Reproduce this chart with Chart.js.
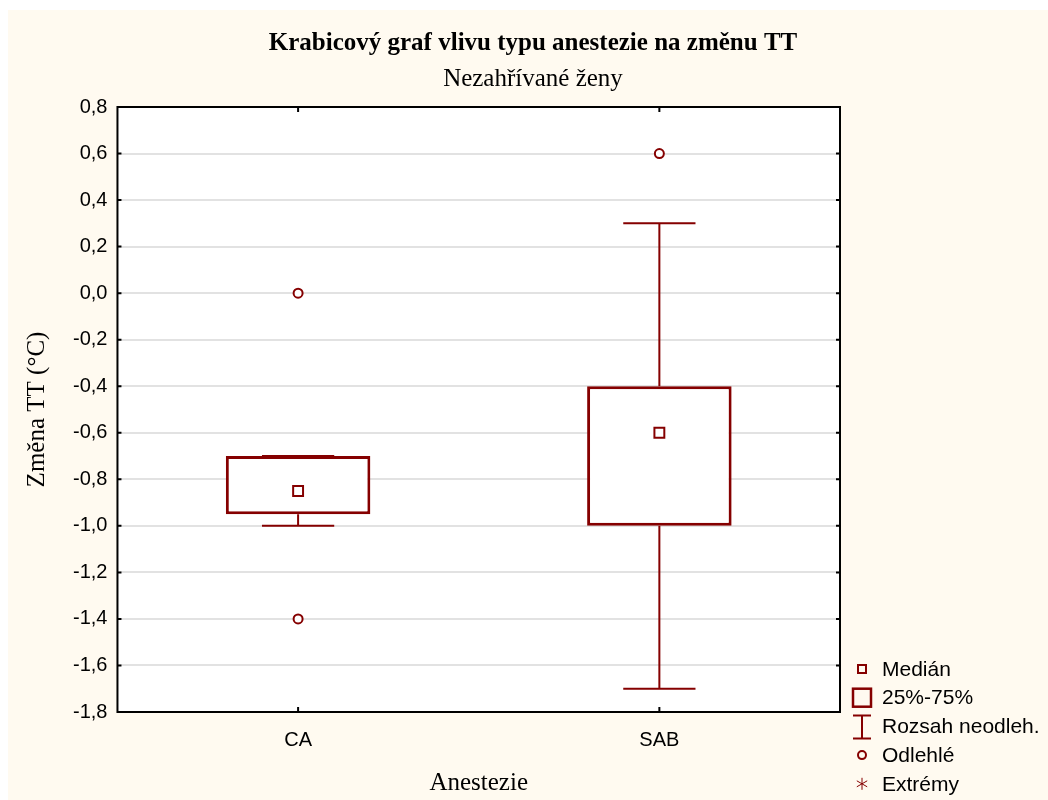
<!DOCTYPE html>
<html lang="cs">
  <head>
    <meta charset="utf-8" />
    <title>Krabicový graf</title>
    <style>
      body { margin: 0; background: #ffffff; }
      #wrap { position: absolute; left: 8px; top: 10px; width: 1040px; height: 790px; background: #fffaf0; }
    </style>
  </head>
  <body>
    <div id="wrap"><canvas id="myChart"></canvas></div>
    <script src="https://cdn.jsdelivr.net/npm/chart.js@4.4.1/dist/chart.umd.min.js"></script>
    <script>
      // data
      var categories = ["CA", "SAB"];
      var q1 = [-0.95, -1.0];
      var q3 = [-0.7, -0.4];
      var medians = [-0.85, -0.6];
      var whiskerLow = [-1.0, -1.7];
      var whiskerHigh = [-0.7, 0.3];
      var outlierCat = ["CA", "CA", "SAB"];
      var outlierVal = [0.0, -1.4, 0.6];
      var legendLabels = ["Medián", "25%-75%", "Rozsah neodleh.", "Odlehlé", "Extrémy"];

      var RED = "#850000";

      var boxData = [];
      for (var i = 0; i < categories.length; i++) {
        boxData.push([q1[i], q3[i]]);
      }
      var outlierData = [];
      for (var j = 0; j < outlierVal.length; j++) {
        outlierData.push({ x: outlierCat[j], y: outlierVal[j] });
      }

      function fmt(v) {
        if (Math.abs(v) < 1e-9) v = 0;
        return v.toFixed(1).replace(".", ",");
      }

      var plotPlugin = {
        id: "plotDecor",
        beforeDraw: function (chart) {
          var a = chart.chartArea, ctx = chart.ctx;
          ctx.save();
          ctx.fillStyle = "#ffffff";
          ctx.fillRect(a.left, a.top, a.right - a.left, a.bottom - a.top);
          ctx.restore();
        },
        beforeDatasetsDraw: function (chart) {
          // whiskers, drawn under the boxes
          var ctx = chart.ctx, y = chart.scales.y;
          var bars = chart.getDatasetMeta(0).data;
          ctx.save();
          ctx.strokeStyle = RED;
          ctx.lineWidth = 2;
          for (var i = 0; i < bars.length; i++) {
            var cx = bars[i].x, half = bars[i].width / 4;
            var yHi = y.getPixelForValue(whiskerHigh[i]);
            var yLo = y.getPixelForValue(whiskerLow[i]);
            var yQ3 = y.getPixelForValue(q3[i]);
            var yQ1 = y.getPixelForValue(q1[i]);
            ctx.beginPath();
            ctx.moveTo(cx, yQ3); ctx.lineTo(cx, yHi);
            ctx.moveTo(cx, yQ1); ctx.lineTo(cx, yLo);
            ctx.moveTo(cx - half, yHi); ctx.lineTo(cx + half, yHi);
            ctx.moveTo(cx - half, yLo); ctx.lineTo(cx + half, yLo);
            ctx.stroke();
          }
          ctx.restore();
        },
        afterDatasetsDraw: function (chart) {
          var a = chart.chartArea, ctx = chart.ctx;
          var x = chart.scales.x, y = chart.scales.y;
          ctx.save();
          ctx.strokeStyle = "#000000";
          ctx.lineWidth = 2;
          ctx.strokeRect(a.left, a.top, a.right - a.left, a.bottom - a.top);
          ctx.beginPath();
          y.ticks.forEach(function (t, k) {
            var py = y.getPixelForTick(k);
            ctx.moveTo(a.left, py); ctx.lineTo(a.left + 4, py);
            ctx.moveTo(a.right, py); ctx.lineTo(a.right - 4, py);
          });
          x.ticks.forEach(function (t, k) {
            var px = x.getPixelForTick(k);
            ctx.moveTo(px, a.bottom); ctx.lineTo(px, a.bottom - 5);
            ctx.moveTo(px, a.top); ctx.lineTo(px, a.top + 5);
          });
          ctx.stroke();
          ctx.restore();
        },
        afterDraw: function (chart) {
          // legend in Statistica style, bottom right
          var a = chart.chartArea, ctx = chart.ctx;
          var ix = a.right + 22, tx = a.right + 42;
          var y0 = a.bottom - 43, step = 28.7;
          ctx.save();
          ctx.font = "21px Arial, 'Liberation Sans', sans-serif";
          ctx.textBaseline = "middle";
          ctx.fillStyle = "#000000";
          for (var i = 0; i < legendLabels.length; i++) {
            ctx.fillText(legendLabels[i], tx, y0 + i * step + 1);
          }
          ctx.strokeStyle = RED;
          var yy;
          // median
          yy = y0;
          ctx.lineWidth = 2;
          ctx.strokeRect(ix - 4, yy - 4, 8, 8);
          // box
          yy = y0 + step;
          ctx.lineWidth = 2.5;
          ctx.strokeRect(ix - 9, yy - 9, 18, 18);
          // whisker
          yy = y0 + 2 * step;
          ctx.lineWidth = 2;
          ctx.beginPath();
          ctx.moveTo(ix - 9, yy - 11); ctx.lineTo(ix + 9, yy - 11);
          ctx.moveTo(ix, yy - 11); ctx.lineTo(ix, yy + 12);
          ctx.moveTo(ix - 9, yy + 12); ctx.lineTo(ix + 9, yy + 12);
          ctx.stroke();
          // outlier
          yy = y0 + 3 * step;
          ctx.beginPath();
          ctx.arc(ix, yy, 4, 0, Math.PI * 2);
          ctx.stroke();
          // extreme
          yy = y0 + 4 * step;
          ctx.lineWidth = 1;
          ctx.beginPath();
          for (var k = 0; k < 3; k++) {
            var ang = Math.PI / 2 + k * Math.PI / 3;
            ctx.moveTo(ix - 6 * Math.cos(ang), yy - 6 * Math.sin(ang));
            ctx.lineTo(ix + 6 * Math.cos(ang), yy + 6 * Math.sin(ang));
          }
          ctx.stroke();
          ctx.restore();
        }
      };

      function createChart() {
        var ctx = document.getElementById("myChart").getContext("2d");
        new Chart(ctx, {
          data: {
            labels: categories,
            datasets: [
              {
                type: "bar",
                label: "25%-75%",
                data: boxData,
                backgroundColor: "#ffffff",
                borderColor: RED,
                borderWidth: 3,
                borderSkipped: false,
                barPercentage: 0.4,
                categoryPercentage: 1.0,
                order: 2
              },
              {
                type: "line",
                label: "Medián",
                data: medians,
                showLine: false,
                pointStyle: "rect",
                pointRadius: 7,
                pointBorderWidth: 2,
                pointBorderColor: RED,
                pointBackgroundColor: "#ffffff",
                order: 0
              },
              {
                type: "line",
                label: "Odlehlé",
                data: outlierData,
                showLine: false,
                pointStyle: "circle",
                pointRadius: 4.5,
                pointBorderWidth: 2,
                pointBorderColor: RED,
                pointBackgroundColor: "#ffffff",
                order: 0
              }
            ]
          },
          options: {
            responsive: true,
            maintainAspectRatio: false,
            animation: false,
            layout: { padding: { left: 10, right: 0, top: 0, bottom: 0 } },
            plugins: {
              legend: { display: false },
              tooltip: { enabled: false },
              title: {
                display: true,
                text: "Krabicový graf vlivu typu anestezie na změnu TT",
                color: "#000000",
                font: { family: "'Times New Roman', 'Liberation Serif', serif", size: 25, weight: "bold", lineHeight: 1.2 },
                padding: { top: 19, bottom: 2 }
              },
              subtitle: {
                display: true,
                text: "Nezahřívané ženy",
                color: "#000000",
                font: { family: "'Times New Roman', 'Liberation Serif', serif", size: 25, weight: "normal", lineHeight: 1.2 },
                padding: { top: 3, bottom: 13 }
              }
            },
            scales: {
              x: {
                type: "category",
                offset: true,
                grid: { display: false, drawTicks: false },
                border: { display: false },
                ticks: {
                  color: "#000000",
                  padding: 16,
                  font: { family: "Arial, 'Liberation Sans', sans-serif", size: 20 }
                },
                title: {
                  display: true,
                  text: "Anestezie",
                  color: "#000000",
                  font: { family: "'Times New Roman', 'Liberation Serif', serif", size: 25, lineHeight: 1.2 },
                  padding: { top: 0, bottom: 2 }
                }
              },
              y: {
                min: -1.8,
                max: 0.8,
                grid: { color: "#e2e2e2", lineWidth: 2, drawTicks: false },
                border: { display: false },
                ticks: {
                  stepSize: 0.2,
                  color: "#000000",
                  padding: 10,
                  font: { family: "Arial, 'Liberation Sans', sans-serif", size: 20 },
                  callback: function (v) { return fmt(v); }
                },
                title: {
                  display: true,
                  text: "Změna TT (°C)",
                  color: "#000000",
                  font: { family: "'Times New Roman', 'Liberation Serif', serif", size: 25, lineHeight: 1.2 },
                  padding: { top: 4, bottom: 11 }
                }
              },
              // empty right-hand scale that only reserves room for the legend
              spacer: {
                type: "linear",
                position: "right",
                display: true,
                grid: { display: false, drawTicks: false },
                border: { display: false },
                ticks: { display: false },
                afterFit: function (s) { s.width = 208; }
              }
            }
          },
          plugins: [plotPlugin]
        });
      }

      createChart();
    </script>
  </body>
</html>
